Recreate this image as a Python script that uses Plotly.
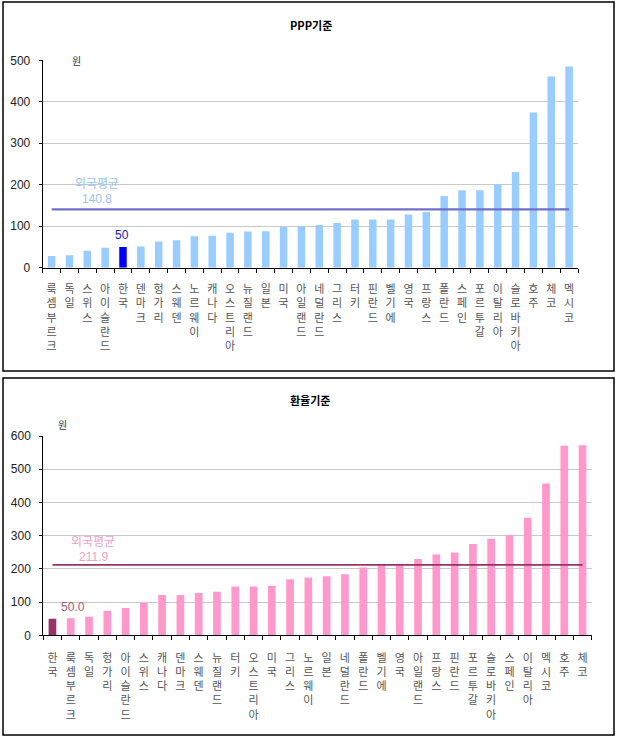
import plotly.graph_objects as go

# ---------------- data ----------------
ppp_countries = ["룩셈부르크", "독일", "스위스", "아이슬란드", "한국", "덴마크", "헝가리", "스웨덴",
                 "노르웨이", "캐나다", "오스트리아", "뉴질랜드", "일본", "미국", "아일랜드", "네덜란드",
                 "그리스", "터키", "핀란드", "벨기에", "영국", "프랑스", "폴란드", "스페인",
                 "포르투갈", "이탈리아", "슬로바키아", "호주", "체코", "멕시코"]
ppp_values = [28, 30, 41, 48, 50, 51, 63, 66, 76, 77, 84, 87, 88, 98, 100, 103,
              108, 116, 116, 116, 128, 134, 173, 187, 187, 201, 231, 374, 461, 485]
ppp_avg = 140.8

fx_countries = ["한국", "룩셈부르크", "독일", "헝가리", "아이슬란드", "스위스", "캐나다", "덴마크",
                "스웨덴", "뉴질랜드", "터키", "오스트리아", "미국", "그리스", "노르웨이", "일본",
                "네덜란드", "폴란드", "벨기에", "영국", "아일랜드", "프랑스", "핀란드", "포르투갈",
                "슬로바키아", "스페인", "이탈리아", "멕시코", "호주", "체코"]
fx_values = [50, 51, 56, 74, 82, 99, 121, 121, 127, 131, 147, 147, 149, 169, 174, 178,
             184, 204, 215, 215, 230, 243, 249, 275, 291, 301, 354, 457, 571, 572]
fx_avg = 211.9

ppp_ticks = [0, 100, 200, 300, 400, 500]
fx_ticks = [0, 100, 200, 300, 400, 500, 600]

W, H = 618, 738
FONT = "Arial, 'Noto Sans CJK KR', sans-serif"
KFONT = "'Noto Sans CJK KR', Arial, sans-serif"


def vlabel(s):
    return "<br>".join(list(s))


def px(x):
    return x / W


def py(y):
    return 1 - y / H


fig = go.Figure()

# top: PPP
ppp_colors = ["#0000FF" if c == "한국" else "#99CCFF" for c in ppp_countries]
fig.add_trace(go.Bar(x=ppp_countries, y=ppp_values, marker=dict(color=ppp_colors, line=dict(width=0)),
                     xaxis="x", yaxis="y", showlegend=False))
fig.add_trace(go.Scatter(x=ppp_countries, y=[ppp_avg] * len(ppp_countries), mode="lines",
                         line=dict(color="#7070C8", width=2.2), xaxis="x", yaxis="y", showlegend=False))

# bottom: exchange rate
fx_colors = ["#993366" if c == "한국" else "#FF99CC" for c in fx_countries]
fig.add_trace(go.Bar(x=fx_countries, y=fx_values, marker=dict(color=fx_colors, line=dict(width=0)),
                     xaxis="x2", yaxis="y2", showlegend=False))
fig.add_trace(go.Scatter(x=fx_countries, y=[fx_avg] * len(fx_countries), mode="lines",
                         line=dict(color="#993366", width=1.8), xaxis="x2", yaxis="y2", showlegend=False))

xcommon = dict(type="category", tickson="boundaries", ticks="outside", ticklen=4, tickcolor="#000000",
               showline=True, linecolor="#000000", linewidth=1, showgrid=False, tickangle=0,
               automargin=False,
               tickfont=dict(family=KFONT, size=11, color="#555555"), fixedrange=True)
ycommon = dict(showline=True, linecolor="#000000", linewidth=1, ticks="outside", ticklen=3,
               tickcolor="#000000", showgrid=True, gridcolor="#C8C8C8", gridwidth=1, zeroline=False,
               automargin=False,
               tickfont=dict(family=FONT, size=12, color="#222222"), ticklabelstandoff=6, fixedrange=True)

fig.update_layout(
    width=W, height=H, autosize=False,
    margin=dict(l=0, r=0, t=0, b=0, pad=0, autoexpand=False),
    paper_bgcolor="white", plot_bgcolor="white",
    bargap=0.58,
    xaxis=dict(domain=[px(42.7), px(578)], anchor="y", ticklabelstandoff=11,
               tickvals=ppp_countries, ticktext=[vlabel(c) for c in ppp_countries], **xcommon),
    yaxis=dict(domain=[py(267.7), py(60.3)], anchor="x", range=[0, 500],
               tickvals=ppp_ticks, **ycommon),
    xaxis2=dict(domain=[px(43.3), px(591.7)], anchor="y2", ticklabelstandoff=12,
                tickvals=fx_countries, ticktext=[vlabel(c) for c in fx_countries], **xcommon),
    yaxis2=dict(domain=[py(635.3), py(436)], anchor="x2", range=[0, 600],
                tickvals=fx_ticks, **ycommon),
)

# panel borders
for (x0, y0, x1, y1) in [(3, 2, 614, 371), (3, 378, 614, 735)]:
    fig.add_shape(type="rect", xref="paper", yref="paper", x0=px(x0), x1=px(x1), y0=py(y1), y1=py(y0),
                  line=dict(color="#000000", width=1.5), fillcolor="rgba(0,0,0,0)")

ann = []
# titles
ann.append(dict(text="<b>PPP기준</b>", x=px(311), y=py(25), font=dict(family=KFONT, size=11, color="#000000")))
ann.append(dict(text="<b>환율기준</b>", x=px(310), y=py(400), font=dict(family=KFONT, size=11, color="#000000")))
# units
ann.append(dict(text="원", x=px(76), y=py(61), font=dict(family=KFONT, size=10, color="#333333")))
ann.append(dict(text="원", x=px(62), y=py(424), font=dict(family=KFONT, size=10, color="#333333")))
# average labels top
ann.append(dict(text="외국평균", x=px(97), y=py(183), font=dict(family=KFONT, size=12, color="#9CC4EC")))
ann.append(dict(text="140.8", x=px(97), y=py(199.5), font=dict(family=FONT, size=12, color="#9CC4EC")))
ann.append(dict(text="50", x=px(122), y=py(235), font=dict(family=FONT, size=12, color="#2020C0")))
# average labels bottom
ann.append(dict(text="외국평균", x=px(93), y=py(540.5), font=dict(family=KFONT, size=12, color="#F4A0C8")))
ann.append(dict(text="211.9", x=px(93), y=py(557.3), font=dict(family=FONT, size=12, color="#F4A0C8")))
ann.append(dict(text="50.0", x=px(73), y=py(607.3), font=dict(family=FONT, size=12, color="#9A5C78")))

for a in ann:
    a.update(xref="paper", yref="paper", showarrow=False, xanchor="center", yanchor="middle")
fig.update_layout(annotations=ann)

fig.write_html("out.html", config=dict(displayModeBar=False, responsive=False))

# remove default page margins so the figure sits at the window's top-left corner
with open("out.html", "r", encoding="utf-8") as f:
    html = f.read()
html = html.replace("<head>", "<head><style>html,body{margin:0;padding:0;overflow:hidden;}</style>", 1)
with open("out.html", "w", encoding="utf-8") as f:
    f.write(html)
